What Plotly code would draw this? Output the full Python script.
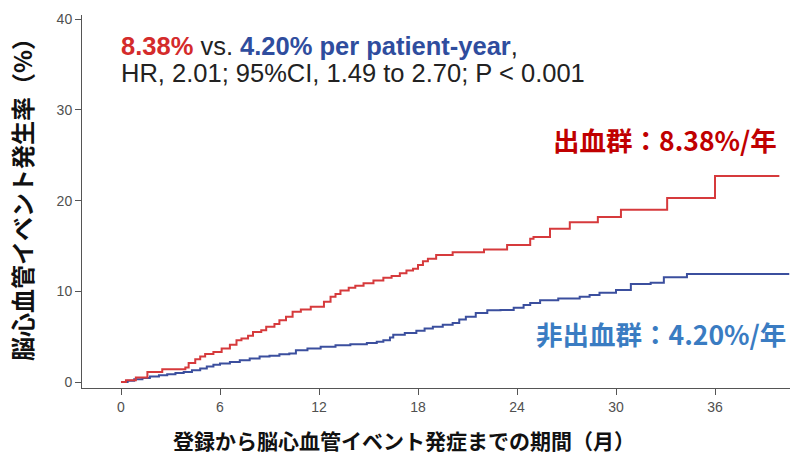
import plotly.graph_objects as go

# Red: bleeding group (出血群) — step times (months) and cumulative incidence (%)
red_month = [0, 0.3, 0.9, 1.6, 2.5, 3.9, 4.1, 4.5, 4.8, 5.1, 5.6, 6.1, 6.6, 7.0, 7.3, 7.7, 8.0, 8.5, 8.8,
             9.3, 9.6, 10.0, 10.4, 10.9, 11.5, 12.3, 12.7, 13.0, 13.3, 13.8, 14.2, 14.7, 15.3, 15.9,
             16.4, 16.9, 17.3, 17.7, 18.0, 18.3, 18.6, 19.1, 20.1, 22.0, 23.4, 24.8, 25.0, 26.0, 27.2,
             28.9, 30.3, 33.1, 36.0, 39.9]
red_val = [0, 0.2, 0.5, 1.1, 1.4, 1.6, 2.1, 2.5, 2.8, 3.1, 3.3, 3.7, 4.1, 4.6, 4.8, 5.1, 5.5, 5.7, 6.1,
           6.4, 6.8, 7.2, 7.75, 8.0, 8.3, 8.85, 9.4, 9.7, 10.1, 10.4, 10.6, 10.9, 11.2, 11.5,
           11.7, 12.0, 12.3, 12.5, 12.9, 13.3, 13.6, 14.0, 14.3, 14.6, 15.1, 15.8, 16.0, 16.9, 17.6,
           18.2, 19.0, 20.3, 22.7, 22.7]

# Blue: non-bleeding group (非出血群)
blue_month = [0, 0.4, 0.8, 1.3, 1.75, 2.3, 2.8, 3.3, 3.8, 4.3, 4.8, 5.2, 5.6, 6.0, 6.6, 7.2, 7.8, 8.4,
              9.0, 9.6, 10.2, 10.6, 11.3, 12.1, 13.0, 13.9, 14.9, 15.5, 15.9, 16.3, 16.5, 17.2, 17.9,
              18.4, 18.9, 19.5, 20.1, 20.5, 20.9, 21.5, 22.2, 23.0, 23.8, 24.4, 24.8, 25.4, 26.5,
              27.8, 28.4, 29.0, 30.0, 30.9, 32.1, 32.9, 34.3, 40.5]
blue_val = [0, 0.15, 0.3, 0.45, 0.6, 0.75, 0.85, 1.0, 1.1, 1.3, 1.5, 1.7, 1.9, 2.05, 2.2, 2.4, 2.6, 2.8,
            2.9, 3.05, 3.15, 3.5, 3.7, 3.9, 4.05, 4.15, 4.3, 4.45, 4.6, 4.9, 5.2, 5.4, 5.65,
            5.9, 6.1, 6.3, 6.5, 6.9, 7.2, 7.6, 7.9, 7.95, 8.2, 8.5, 8.7, 9.0, 9.2,
            9.4, 9.6, 9.85, 10.15, 10.8, 10.95, 11.55, 11.9, 11.9]

x_ticks = [0, 6, 12, 18, 24, 30, 36]
y_ticks = [0, 10, 20, 30, 40]

RED = "#d63a3c"
BLUE = "#3b4f9e"
CJK = "Noto Sans CJK JP"
LAT = "Liberation Sans, Arial, sans-serif"

fig = go.Figure()
fig.add_trace(go.Scatter(x=blue_month, y=blue_val, mode="lines", line=dict(color=BLUE, width=2, shape="hv"),
                         showlegend=False, hoverinfo="skip"))
fig.add_trace(go.Scatter(x=red_month, y=red_val, mode="lines", line=dict(color=RED, width=2, shape="hv"),
                         showlegend=False, hoverinfo="skip"))

L, R, T, B = 82, 790, 15, 388
W, H = R - L, B - T

def px(x):
    return (x - L) / W

def py(y):
    return (B - y) / H

annotations = [
    dict(text="<b><span style='color:%s'>8.38%%</span></b> vs. <b><span style='color:%s'>4.20%% per patient-year</span></b>," % ("#d42b2b", "#2f4d9e"),
         x=px(119), y=py(46), xref="paper", yref="paper", xanchor="left", yanchor="middle",
         showarrow=False, font=dict(family=LAT, size=25.5, color="#222222")),
    dict(text="HR, 2.01; 95%CI, 1.49 to 2.70; P < 0.001",
         x=px(119), y=py(73), xref="paper", yref="paper", xanchor="left", yanchor="middle",
         showarrow=False, font=dict(family=LAT, size=25.5, color="#222222")),
    dict(text="<b>出血群：8.38%/年</b>",
         x=px(779), y=py(139), xref="paper", yref="paper", xanchor="right", yanchor="middle",
         showarrow=False, font=dict(family=CJK, size=26.5, color="#c00000")),
    dict(text="<b>非出血群：4.20%/年</b>",
         x=px(788), y=py(333), xref="paper", yref="paper", xanchor="right", yanchor="middle",
         showarrow=False, font=dict(family=CJK, size=26.5, color="#3a7cc2")),
    dict(text="<b>登録から脳心血管イベント発症までの期間（月）</b>",
         x=px(404), y=py(440), xref="paper", yref="paper", xanchor="center", yanchor="middle",
         showarrow=False, font=dict(family=CJK, size=21, color="#111111")),
    dict(text="<b>脳心血管イベント発生率（%）</b>",
         x=px(21), y=py(194), xref="paper", yref="paper", xanchor="center", yanchor="middle",
         textangle=-90, showarrow=False, font=dict(family=CJK, size=24, color="#111111")),
]

fig.update_layout(
    width=790, height=454,
    margin=dict(l=L, r=790 - R, t=T, b=454 - B, pad=0),
    paper_bgcolor="white", plot_bgcolor="white",
    annotations=annotations,
    xaxis=dict(range=[(L - 121) / 16.5, (R - 121) / 16.5], tickmode="array", tickvals=x_ticks,
               ticktext=[str(v) for v in x_ticks], showgrid=False, zeroline=False,
               showline=True, linecolor="#555555", linewidth=1, ticks="outside", ticklen=6,
               tickcolor="#555555", tickfont=dict(family=LAT, size=14, color="#505050")),
    yaxis=dict(range=[-(B - 382) / 9.07, (382 - T) / 9.07], tickmode="array", tickvals=y_ticks,
               ticktext=[str(v) for v in y_ticks], showgrid=False, zeroline=False,
               showline=True, linecolor="#555555", linewidth=1, ticks="outside", ticklen=6,
               tickcolor="#555555", tickfont=dict(family=LAT, size=14, color="#505050")),
)

fig.write_html("out.html", config={"displayModeBar": False},
               post_script="document.body.style.margin='0';document.body.style.overflow='hidden';")
